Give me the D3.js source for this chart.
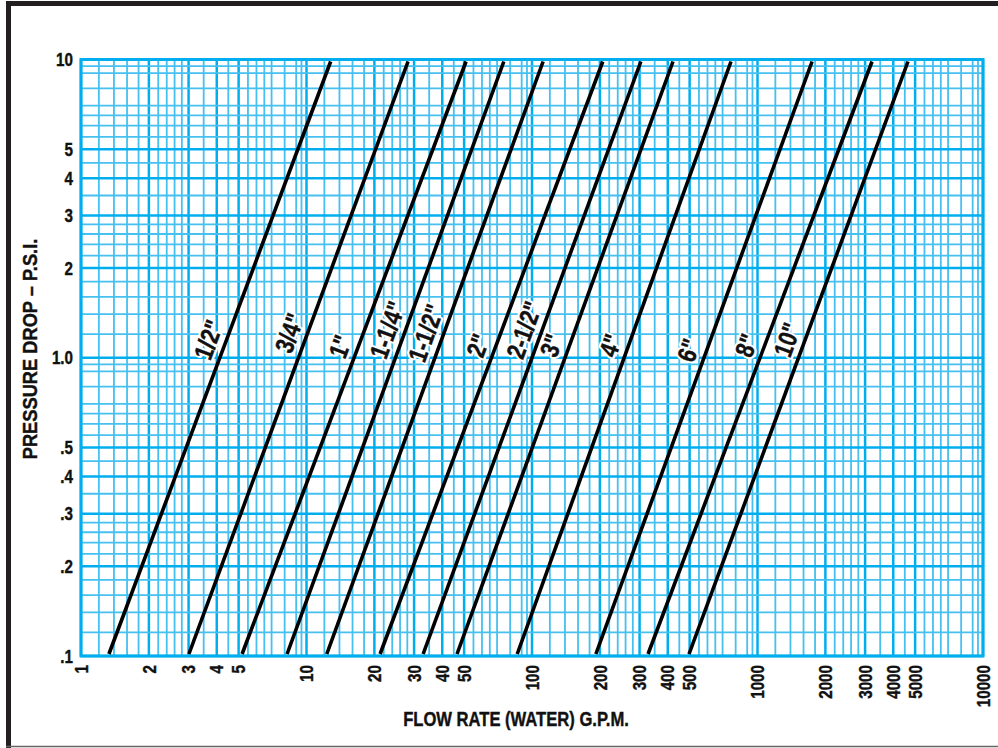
<!DOCTYPE html>
<html>
<head>
<meta charset="utf-8">
<script src="https://cdn.jsdelivr.net/npm/d3@7"></script>
<style>
  html, body { margin: 0; padding: 0; background: #fff; }
  svg { display: block; }
  .tick-label { font-family: "Liberation Sans", Arial, sans-serif; font-weight: bold; font-size: 19px; fill: #111; stroke: #111; stroke-width: 0.4px; }
  .title { font-family: "Liberation Sans", Arial, sans-serif; font-weight: bold; font-size: 20px; fill: #111; stroke: #111; stroke-width: 0.4px; }
  .pipe-label { font-family: "Liberation Sans", Arial, sans-serif; font-weight: bold; font-size: 26px; fill: #111; stroke: #111; stroke-width: 0.4px; }
  .pipe-halo { font-family: "Liberation Sans", Arial, sans-serif; font-weight: bold; font-size: 26px; fill: #fff;
    stroke: #fff; stroke-width: 5px; stroke-linejoin: round; }
</style>
</head>
<body>
<svg id="chart" width="998" height="748"></svg>
<script>
// pipe sizes and the flow (GPM) at which each line crosses 0.1 psi and 10 psi
var pipeSizes = ['1/2"', '3/4"', '1"', '1-1/4"', '1-1/2"', '2"', '2-1/2"', '3"', '4"', '6"', '8"', '10"'];
var flowAtLowPsi = [1.33, 3.01, 5.18, 8.2, 12.3, 21.2, 32.9, 46.5, 86, 192, 327, 497];
var flowAtHighPsi = [12.8, 28.2, 51, 75, 112, 206, 304, 422, 763, 1746, 3220, 4650];
var labelPsi = [1.15, 1.21, 1.09, 1.24, 1.21, 1.1, 1.24, 1.1, 1.1, 1.06, 1.1, 1.15];
var psiLow = 0.1, psiHigh = 10;

var xTickValues = [1, 2, 3, 4, 5, 10, 20, 30, 40, 50, 100, 200, 300, 400, 500, 1000, 2000, 3000, 4000, 5000, 10000];
var yTickValues = [0.1, 0.2, 0.3, 0.4, 0.5, 1, 2, 3, 4, 5, 10];
var yTickLabels = ['.1', '.2', '.3', '.4', '.5', '1.0', '2', '3', '4', '5', '10'];

// log-paper rulings inside each decade
var gridMantissas = [1.2, 1.4, 1.6, 1.8, 2, 2.2, 2.4, 2.6, 2.8, 3, 3.5, 4, 4.5, 5, 5.5, 6, 6.5, 7, 8, 9, 9.5];
var heavyMantissas = [1, 2, 3, 4, 5];

var narrow = 0.8; // squeeze to mimic a condensed face

var svg = d3.select('#chart');
var margin = {top: 59.5, right: 15, bottom: 92, left: 81};
var width = 998 - margin.left - margin.right;
var height = 748 - margin.top - margin.bottom;

var x = d3.scaleLog().domain([1, 10000]).range([0, width]);
var y = d3.scaleLog().domain([0.1, 10]).range([height, 0]);

// outer frame
svg.append('line').attr('x1', 8.5).attr('x2', 8.5).attr('y1', 1).attr('y2', 748)
    .attr('stroke', '#231f20').attr('stroke-width', 5);
svg.append('line').attr('x1', 6).attr('x2', 998).attr('y1', 3.5).attr('y2', 3.5)
    .attr('stroke', '#231f20').attr('stroke-width', 5);
svg.append('line').attr('x1', 6).attr('x2', 998).attr('y1', 746.5).attr('y2', 746.5)
    .attr('stroke', '#666').attr('stroke-width', 1.5);

var g = svg.append('g').attr('transform', 'translate(' + margin.left + ',' + margin.top + ')');

function gridValues(lo, hi) {
  var out = [];
  for (var d = lo; d < hi; d *= 10) {
    gridMantissas.forEach(function(m) {
      var v = +(m * d).toPrecision(4);
      if (v < hi) out.push({v: v, heavy: heavyMantissas.indexOf(m) >= 0});
    });
    out.push({v: d, heavy: true});
  }
  out.push({v: hi, heavy: true});
  return out;
}

var grid = g.append('g').attr('class', 'grid');

grid.selectAll('.vline')
    .data(gridValues(1, 10000))
    .enter().append('line')
    .attr('class', 'vline')
    .attr('x1', function(d) { return x(d.v); })
    .attr('x2', function(d) { return x(d.v); })
    .attr('y1', 0)
    .attr('y2', height)
    .attr('stroke', function(d) { return d.heavy ? '#00aeef' : '#45c0f0'; })
    .attr('stroke-width', function(d) { return d.heavy ? 2.5 : 1.8; });

grid.selectAll('.hline')
    .data(gridValues(0.1, 10))
    .enter().append('line')
    .attr('class', 'hline')
    .attr('x1', 0)
    .attr('x2', width)
    .attr('y1', function(d) { return y(d.v); })
    .attr('y2', function(d) { return y(d.v); })
    .attr('stroke', function(d) { return d.heavy ? '#00aeef' : '#45c0f0'; })
    .attr('stroke-width', function(d) { return d.heavy ? 2.5 : 1.8; });

grid.append('rect')
    .attr('width', width)
    .attr('height', height)
    .attr('fill', 'none')
    .attr('stroke', '#00aeef')
    .attr('stroke-width', 3);

// pipe lines
var pipes = pipeSizes.map(function(name, i) {
  return {name: name, lo: flowAtLowPsi[i], hi: flowAtHighPsi[i], labelPsi: labelPsi[i]};
});

function flowAt(d, psi) {
  var t = (Math.log10(psi) - Math.log10(psiLow)) / (Math.log10(psiHigh) - Math.log10(psiLow));
  return Math.pow(10, Math.log10(d.lo) + t * (Math.log10(d.hi) - Math.log10(d.lo)));
}

g.append('g').selectAll('.pipe')
    .data(pipes)
    .enter().append('line')
    .attr('class', 'pipe')
    .attr('x1', function(d) { return x(d.lo); })
    .attr('y1', y(psiLow) - 2)
    .attr('x2', function(d) { return x(d.hi); })
    .attr('y2', y(psiHigh) + 2)
    .attr('stroke', '#000')
    .attr('stroke-width', 3.6);

function labelTransform(d) {
  var px = x(flowAt(d, d.labelPsi)) - 18;
  var py = y(d.labelPsi);
  var ang = Math.atan2(y(psiLow) - y(psiHigh), x(d.hi) - x(d.lo)) * 180 / Math.PI;
  return 'translate(' + px + ',' + py + ') rotate(' + (-ang) + ') scale(0.82,1)';
}

var labels = g.append('g');
['pipe-halo', 'pipe-label'].forEach(function(cls) {
  labels.selectAll('.' + cls)
      .data(pipes)
      .enter().append('text')
      .attr('class', cls)
      .attr('text-anchor', 'middle')
      .attr('dy', '0.35em')
      .attr('transform', labelTransform)
      .text(function(d) { return d.name; });
});

// tick labels
g.append('g').selectAll('.ytick')
    .data(yTickValues)
    .enter().append('text')
    .attr('class', 'tick-label')
    .attr('text-anchor', 'end')
    .attr('dy', '0.35em')
    .attr('transform', function(d) { return 'translate(-8,' + y(d) + ') scale(' + narrow + ',1)'; })
    .text(function(d, i) { return yTickLabels[i]; });

g.append('g').selectAll('.xtick')
    .data(xTickValues)
    .enter().append('text')
    .attr('class', 'tick-label')
    .attr('text-anchor', 'end')
    .attr('dy', '0.35em')
    .attr('transform', function(d) {
      return 'translate(' + x(d) + ',' + (height + 9) + ') rotate(-90) scale(' + narrow + ',1)';
    })
    .text(function(d) { return d; });

// axis titles
svg.append('text')
    .attr('class', 'title')
    .attr('text-anchor', 'middle')
    .attr('transform', 'translate(516,726) scale(0.83,1)')
    .text('FLOW RATE (WATER) G.P.M.');

svg.append('text')
    .attr('class', 'title')
    .attr('text-anchor', 'middle')
    .style('font-size', '21px')
    .attr('transform', 'translate(37,349) rotate(-90) scale(0.87,1)')
    .text('PRESSURE DROP \u2013 P.S.I.');
</script>
</body>
</html>
